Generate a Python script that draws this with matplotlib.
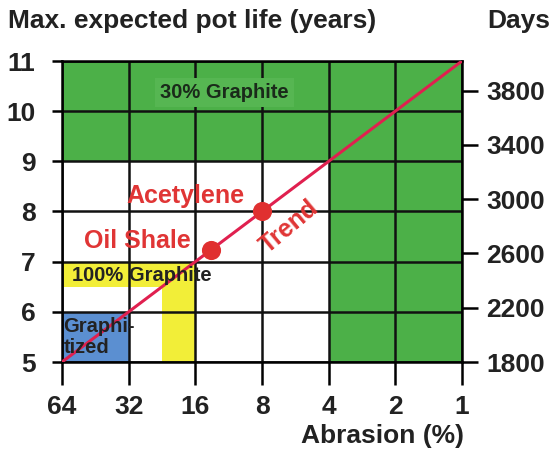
import numpy as np
import matplotlib
matplotlib.use("Agg")
import matplotlib.pyplot as plt

plt.rcParams['font.family'] = ['Liberation Sans', 'DejaVu Sans']
plt.rcParams['font.weight'] = 'bold'

# Data
abrasion_ticks = [64, 32, 16, 8, 4, 2, 1]
year_ticks = [5, 6, 7, 8, 9, 10, 11]
day_ticks = [1800, 2200, 2600, 3000, 3400, 3800]
days_per_year = 365.25

trend_x = [64, 1]
trend_y = [5, 11]

point_names = ["Oil Shale", "Acetylene"]
point_x = [13.6, 8]
point_y = [7.24, 8.0]

# regions: (x_from, x_to, y_from, y_to, color)
green = '#4cb048'
regions = [
    (64, 1, 9, 11, green),          # 30% Graphite
    (4, 1, 5, 9, green),
    (64, 16, 6.5, 7, '#f2ee38'),    # 100% Graphite
    (22.6, 16, 5, 7, '#f2ee38'),
    (64, 32, 5, 6, '#5b8fd1'),      # Graphitized
]

fig = plt.figure(figsize=(5.5, 4.5), dpi=100)
ax = fig.add_axes([62/550, 1 - 362/450, 400/550, 301/450])
ax.set_xscale('log', base=2)
ax.set_xlim(64, 1)
ax.set_ylim(5, 11)

for x0, x1, y0, y1, c in regions:
    ax.fill_between([x0, x1], y0, y1, color=c, lw=0, zorder=1)

for x in abrasion_ticks:
    ax.axvline(x, color='#111111', lw=1.8, zorder=2)
for y in year_ticks:
    ax.axhline(y, color='#111111', lw=1.8, zorder=2)

ax.plot(trend_x, trend_y, color='#e0204f', lw=2.2, zorder=4, solid_capstyle='butt')
ax.scatter(point_x, point_y, s=190, color='#e03030', zorder=5, linewidths=0)

red = '#e03535'
ax.text(17.8, 8.3, "Acetylene", color=red, fontsize=18, fontweight='bold',
        ha='center', va='center', zorder=6)
ax.text(29.3, 7.42, "Oil Shale", color=red, fontsize=18, fontweight='bold',
        ha='center', va='center', zorder=6)
ax.text(6.0, 7.7, "Trend", color=red, fontsize=18, fontweight='bold',
        ha='center', va='center', rotation=40, zorder=6)

ax.text(11.8, 10.38, "30% Graphite", color='#1a2a1a', fontsize=14.5, fontweight='bold',
        ha='center', va='center', zorder=3,
        bbox=dict(boxstyle='square,pad=0.25', facecolor='#56b652', edgecolor='none'))
ax.text(27.8, 6.72, "100% Graphite", color='#222222', fontsize=14.5, fontweight='bold',
        ha='center', va='center', zorder=6)
ax.text(63, 5.5, "Graphi-\ntized", color='#222222', fontsize=14.5, fontweight='bold',
        ha='left', va='center', linespacing=1.1, zorder=6)

ax.set_xticks(abrasion_ticks)
ax.set_xticklabels([str(v) for v in abrasion_ticks])
ax.minorticks_off()
ax.set_yticks(year_ticks)
ax.set_yticklabels([str(v) for v in year_ticks])
ax.tick_params(axis='x', length=16.5, width=1.8, labelsize=19, pad=7)
ax.tick_params(axis='y', length=7, width=1.8, labelsize=19, pad=12)
for s in ax.spines.values():
    s.set_linewidth(1.8)
    s.set_zorder(3)

ax2 = ax.twinx()
ax2.set_ylim(5 * days_per_year, 11 * days_per_year)
ax2.set_yticks(day_ticks)
ax2.set_yticklabels([str(v) for v in day_ticks])
ax2.tick_params(axis='y', length=11.5, width=1.8, labelsize=19, pad=6)
for s in ax2.spines.values():
    s.set_visible(False)

fig.text(8/550, 1 - 21/450, "Max. expected pot life (years)", fontsize=19,
         fontweight='bold', ha='left', va='center', color='#222222')
fig.text(487/550, 1 - 21/450, "Days", fontsize=19,
         fontweight='bold', ha='left', va='center', color='#222222')
fig.text(464/550, 1 - 436/450, "Abrasion (%)", fontsize=19,
         fontweight='bold', ha='right', va='center', color='#222222')

for lab in ax.get_xticklabels() + ax.get_yticklabels() + ax2.get_yticklabels():
    lab.set_color('#222222')

fig.savefig("out.png", dpi=100)
